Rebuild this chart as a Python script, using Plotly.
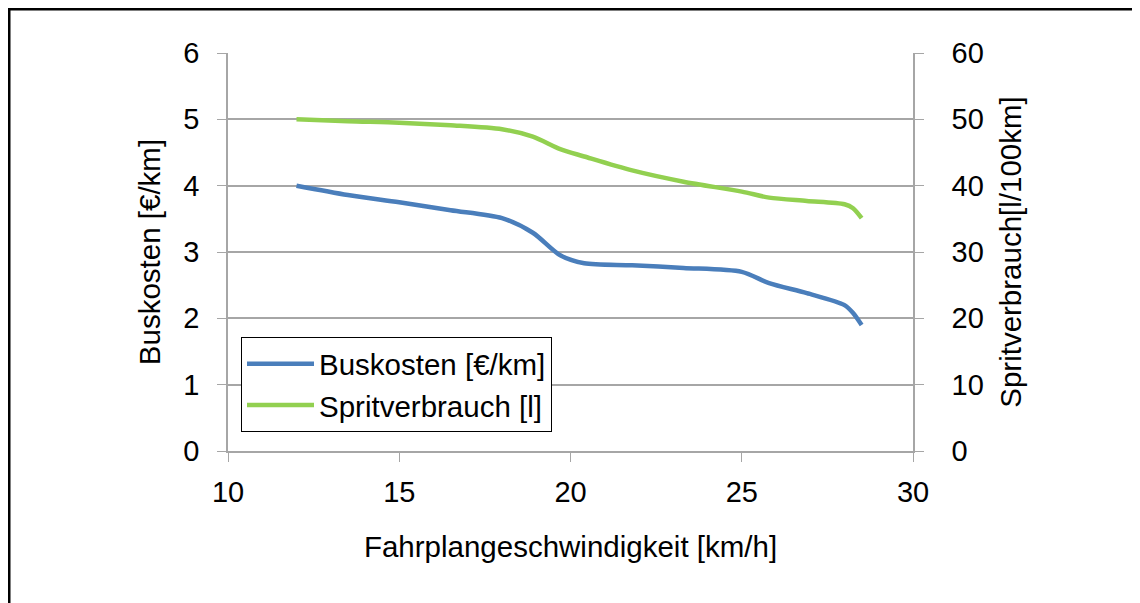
import plotly.graph_objects as go

speed = [12.0, 13.5, 15.0, 16.5, 18.0, 18.9, 19.7, 20.4, 21.8, 23.3, 25.0, 25.8, 26.9, 28.0, 28.25, 28.5]
buskosten = [4.0, 3.86, 3.75, 3.63, 3.51, 3.29, 2.95, 2.83, 2.80, 2.76, 2.70, 2.53, 2.38, 2.20, 2.08, 1.90]
sprit = [50.0, 49.7, 49.5, 49.1, 48.5, 47.4, 45.5, 44.4, 42.3, 40.6, 39.1, 38.2, 37.7, 37.2, 36.6, 35.1]

x_ticks = [10, 15, 20, 25, 30]
y_ticks = [0, 1, 2, 3, 4, 5, 6]
y2_ticks = [0, 10, 20, 30, 40, 50, 60]

FONT = "Liberation Sans, Arial, sans-serif"
GRID = "#a6a6a6"
BLUE = "#4a7ebb"
GREEN = "#92d050"

fig = go.Figure()
fig.add_trace(go.Scatter(x=speed, y=buskosten, mode="lines", name="Buskosten [€/km]",
                         line=dict(color=BLUE, width=4.5, shape="spline", smoothing=0.8)))
fig.add_trace(go.Scatter(x=speed, y=sprit, mode="lines", name="Spritverbrauch [l]", yaxis="y2",
                         line=dict(color=GREEN, width=4.5, shape="spline", smoothing=0.8)))

# page body has an 8px margin; figure occupies page pixels 8..1140 x 8..603
OFF = 8
W, H = 1140 - OFF, 603 - OFF
L, T = 228 - OFF, 53 - OFF
pw, ph = 913 - 228, 451 - 53
R, B = W - L - pw, H - T - ph

def px_x(p):
    return (p - OFF - L) / pw

def px_y(q):
    return (451 - q) / ph

fig.update_layout(
    width=W, height=H,
    margin=dict(l=L, r=R, t=T, b=B, pad=0),
    paper_bgcolor="white", plot_bgcolor="white",
    font=dict(family=FONT, size=29, color="black"),
    showlegend=True,
    legend=dict(x=px_x(241), y=px_y(337), xanchor="left", yanchor="top",
                bgcolor="white", bordercolor="black", borderwidth=1,
                font=dict(size=29.5, family=FONT), tracegroupgap=0, itemwidth=67),
    xaxis=dict(range=[10, 30], tickvals=x_ticks, ticks="outside", ticklen=9, tickcolor=GRID,
               showline=True, linecolor=GRID, linewidth=1.5, showgrid=False, zeroline=False,
               tickfont=dict(size=29), ticklabelstandoff=5,
               title=dict(text="Fahrplangeschwindigkeit [km/h]", font=dict(size=29.5), standoff=30)),
    yaxis=dict(range=[0, 6], tickvals=y_ticks, ticks="outside", ticklen=9, tickcolor=GRID,
               showline=True, linecolor=GRID, linewidth=1.5, showgrid=True, gridcolor=GRID,
               gridwidth=1.5, zeroline=False, tickfont=dict(size=29), ticklabelstandoff=12,
               title=dict(text="Buskosten [€/km]", font=dict(size=29.5), standoff=14)),
    yaxis2=dict(range=[0, 60], tickvals=y2_ticks, overlaying="y", side="right", ticks="outside",
                ticklen=9, tickcolor=GRID, showline=True, linecolor=GRID, linewidth=1.5,
                showgrid=False, zeroline=False, tickfont=dict(size=29), ticklabelstandoff=22,
                title=dict(text="Spritverbrauch[l/100km]", font=dict(size=29.5), standoff=18)),
    shapes=[dict(type="rect", xref="paper", yref="paper",
                 x0=px_x(9), x1=px_x(1300), y0=px_y(800), y1=px_y(9),
                 line=dict(color="black", width=3), layer="above")],
)

fig.write_html("out.html")
